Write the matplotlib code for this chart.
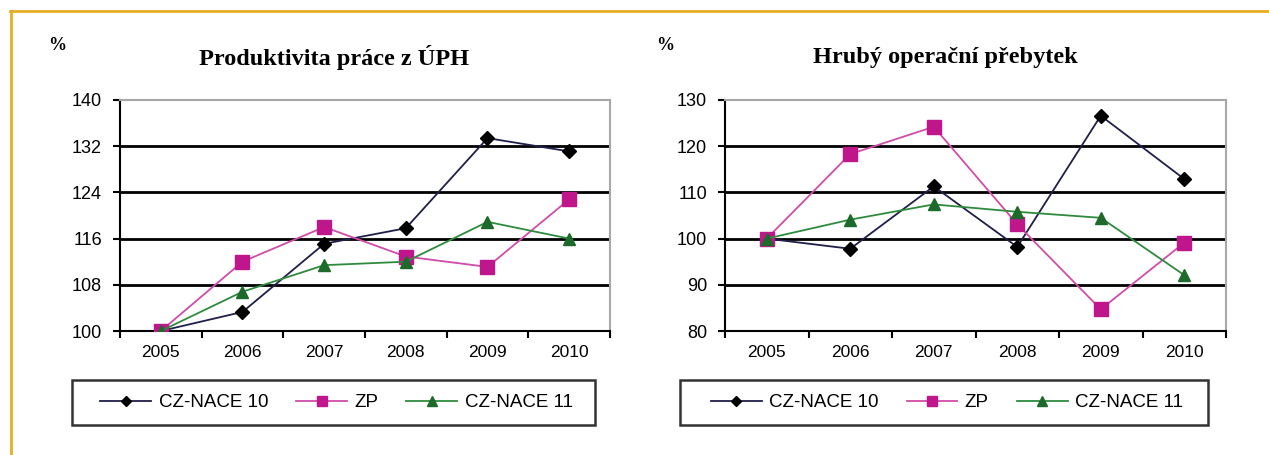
import matplotlib
matplotlib.use("Agg")
import matplotlib.pyplot as plt
from matplotlib.lines import Line2D
from matplotlib.patches import Rectangle

years = ["2005", "2006", "2007", "2008", "2009", "2010"]
series_names = ["CZ-NACE 10", "ZP", "CZ-NACE 11"]

prod_nace10 = [100, 103.3, 115.1, 117.8, 133.4, 131.1]
prod_zp = [100, 112.0, 118.0, 112.9, 111.1, 122.8]
prod_nace11 = [100, 106.8, 111.4, 112.0, 118.9, 116.0]

hop_nace10 = [100, 97.8, 111.3, 98.2, 126.6, 112.9]
hop_zp = [100, 118.3, 124.2, 103.1, 84.7, 99.1]
hop_nace11 = [100, 104.1, 107.4, 105.8, 104.5, 92.1]

titles = ["Produktivita práce z ÚPH", "Hrubý operační přebytek"]
yticks_left = [100, 108, 116, 124, 132, 140]
yticks_right = [80, 90, 100, 110, 120, 130]

W, H = 1269, 455
fig = plt.figure(figsize=(W / 100, H / 100), dpi=100)
fig.patch.set_facecolor("white")

def fx(px):
    return px / W

def fy(py):
    return 1 - py / H

styles = [
    dict(color="#1F1F4A", marker="D", markersize=7, markerfacecolor="black",
         markeredgecolor="black", linewidth=1.3),
    dict(color="#D04CA8", marker="s", markersize=9.5, markerfacecolor="#C0168C",
         markeredgecolor="#C0168C", linewidth=1.3),
    dict(color="#2E8B3E", marker="^", markersize=9, markerfacecolor="#1E6A2A",
         markeredgecolor="#1E6A2A", linewidth=1.3),
]

font_tick = "Liberation Sans"

def make_panel(ax_px, data, yticks, title, title_cx, pct_x, legend_px):
    x0, x1, y0, y1 = ax_px
    ax = fig.add_axes([fx(x0), fy(y1), fx(x1 - x0), (y1 - y0) / H])
    xs = list(range(len(years)))
    for ser, st, name in zip(data, styles, series_names):
        ax.plot(xs, ser, label=name, zorder=3, **st)
    ax.set_xlim(-0.5, len(years) - 0.5)
    ax.set_ylim(yticks[0], yticks[-1])
    ax.set_yticks(yticks)
    ax.set_yticklabels([str(v) for v in yticks], fontsize=13, family=font_tick)
    ax.set_xticks([i - 0.5 for i in range(len(years) + 1)])
    ax.set_xticklabels([])
    ax.set_xticks(xs, minor=True)
    ax.set_xticklabels(years, minor=True, fontsize=12.5, family=font_tick)
    ax.tick_params(axis="x", which="major", direction="out", length=5, width=1.5, color="black")
    ax.tick_params(axis="x", which="minor", length=0, pad=10)
    ax.tick_params(axis="y", direction="out", length=5, width=1.5, pad=8)
    for yv in yticks[1:-1]:
        ax.axhline(yv, color="black", linewidth=2, zorder=1)
    ax.spines["left"].set_color("black")
    ax.spines["bottom"].set_color("black")
    ax.spines["left"].set_linewidth(1.5)
    ax.spines["bottom"].set_linewidth(1.5)
    ax.spines["top"].set_color("#A8A8A8")
    ax.spines["right"].set_color("#A8A8A8")
    ax.spines["top"].set_linewidth(1.5)
    ax.spines["right"].set_linewidth(1.5)

    fig.text(fx(title_cx), fy(57), title, ha="center", va="center",
             family="Liberation Serif", fontweight="bold", fontsize=17.5)
    fig.text(fx(pct_x), fy(45), "%", ha="center", va="center",
             family="Liberation Serif", fontweight="bold", fontsize=13)

    lx0, lx1, ly0, ly1 = legend_px
    rect = Rectangle((fx(lx0), fy(ly1)), fx(lx1 - lx0), (ly1 - ly0) / H,
                     transform=fig.transFigure, fill=False, edgecolor="#333333",
                     linewidth=1.8)
    fig.patches.append(rect)
    handles, labels = ax.get_legend_handles_labels()
    fig.legend(handles, labels, loc="center",
               bbox_to_anchor=(fx((lx0 + lx1) / 2 + 3), fy((ly0 + ly1) / 2)),
               ncol=3, frameon=False, prop={"family": font_tick, "size": 13.5},
               handlelength=2.7, columnspacing=1.5, handletextpad=0.4,
               markerscale=0.8)
    return ax

make_panel((120, 610, 100, 331), [prod_nace10, prod_zp, prod_nace11], yticks_left,
           titles[0], 334, 57, (72, 595, 380, 425))
make_panel((725, 1226, 100, 331), [hop_nace10, hop_zp, hop_nace11], yticks_right,
           titles[1], 945, 665, (680, 1208, 380, 425))

gold = "#E6AE22"
fig.add_artist(Line2D([fx(10), 1], [fy(11), fy(11)], transform=fig.transFigure,
                      color=gold, linewidth=2))
fig.add_artist(Line2D([fx(11), fx(11)], [fy(11), 0], transform=fig.transFigure,
                      color=gold, linewidth=2))

fig.savefig("out.png", dpi=100, facecolor="white")
